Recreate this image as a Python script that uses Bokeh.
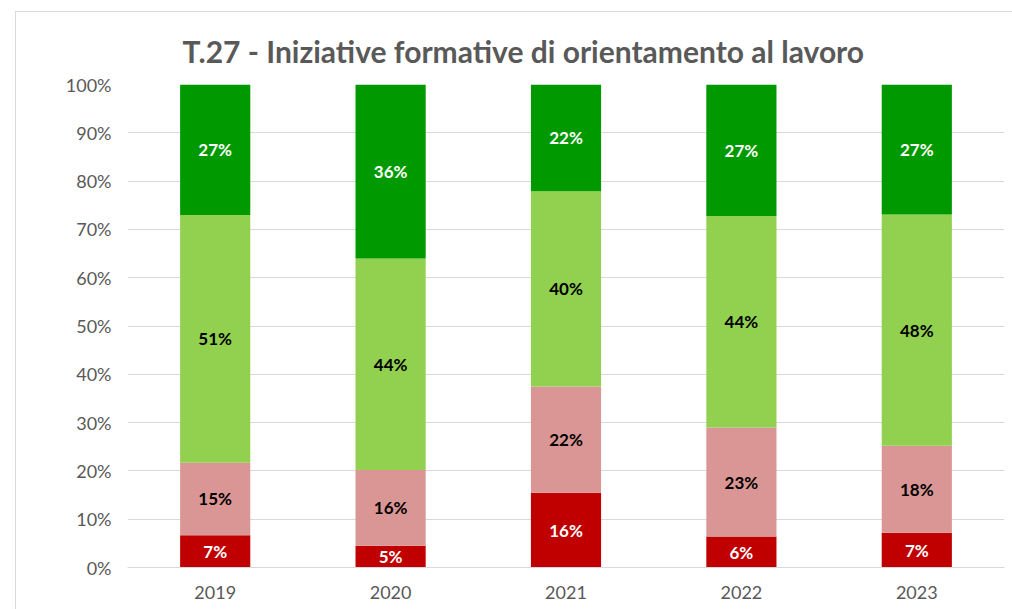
import math
from bokeh.plotting import figure
from bokeh.layouts import column
from bokeh.models import ColumnDataSource, FactorRange, Range1d, PrintfTickFormatter, FixedTicker
from bokeh.core.properties import value
from bokeh.embed import file_html
from bokeh.resources import INLINE

years = ["2019", "2020", "2021", "2022", "2023"]
per_niente = [6.7, 4.5, 15.5, 6.4, 7.2]
poco = [15.0, 15.7, 22.0, 22.6, 18.0]
abbastanza = [51.3, 43.8, 40.4, 43.8, 47.9]
molto = [27.0, 36.0, 22.1, 27.2, 26.9]

series = ["per_niente", "poco", "abbastanza", "molto"]
colors = ["#C00000", "#DA9694", "#92D050", "#009900"]
label_colors = ["#FFFFFF", "#000000", "#000000", "#FFFFFF"]
y_ticks = [0, 10, 20, 30, 40, 50, 60, 70, 80, 90, 100]

data = dict(years=years, per_niente=per_niente, poco=poco, abbastanza=abbastanza, molto=molto)
source = ColumnDataSource(data)

p = figure(
    x_range=FactorRange(*years), y_range=Range1d(0, 100),
    width=996, height=601, output_backend="svg", toolbar_location=None,
    title="T.27 - Iniziative formative di orientamento al lavoro",
    min_border_left=111, min_border_right=8, min_border_top=76, min_border_bottom=42,
)
p.margin = (-4, 0, 0, 0)
p.border_fill_color = None

p.vbar_stack(series, x="years", width=0.4, color=colors, line_color=None, source=source)

# labels
lx, ly, lt, lc = [], [], [], []
cols = [per_niente, poco, abbastanza, molto]
for i, yr in enumerate(years):
    base = 0.0
    for s, vals in enumerate(cols):
        v = vals[i]
        lx.append(yr)
        ly.append(base + v / 2)
        lt.append(f"{math.floor(v + 0.5)}%")
        lc.append(label_colors[s])
        base += v
lsrc = ColumnDataSource(dict(x=lx, y=ly, t=lt, c=lc))
p.text(x="x", y="y", text="t", text_color="c", source=lsrc,
       text_align="center", text_baseline="middle",
       text_font=value("Lato"), text_font_style="bold", text_font_size="17px")

p.title.text_font = "Lato"
p.title.text_font_size = "30px"
p.title.text_font_style = "bold"
p.title.text_color = "#595959"
p.title.align = "left"
p.title.offset = 55
p.title.standoff = 32

p.outline_line_color = None
p.xgrid.grid_line_color = None
p.ygrid.grid_line_color = "#D9D9D9"
p.ygrid.grid_line_width = 1
p.yaxis.ticker = FixedTicker(ticks=y_ticks)
p.yaxis.formatter = PrintfTickFormatter(format="%d%%")
p.yaxis.axis_line_color = None
p.yaxis.major_tick_line_color = None
p.yaxis.minor_tick_line_color = None
p.yaxis.major_label_standoff = 10
p.xaxis.axis_line_color = "#D9D9D9"
p.xaxis.major_tick_line_color = None
p.xaxis.major_label_standoff = 12
for ax in (p.xaxis, p.yaxis):
    ax.major_label_text_font = "Lato"
    ax.major_label_text_font_size = "18px"
    ax.major_label_text_color = "#595959"

layout = column(p, margin=(11, 0, 0, 15),
                styles={"border-top": "1px solid #D9D9D9", "border-left": "1px solid #D9D9D9"})

open("out.html", "w").write(file_html(layout, INLINE))
